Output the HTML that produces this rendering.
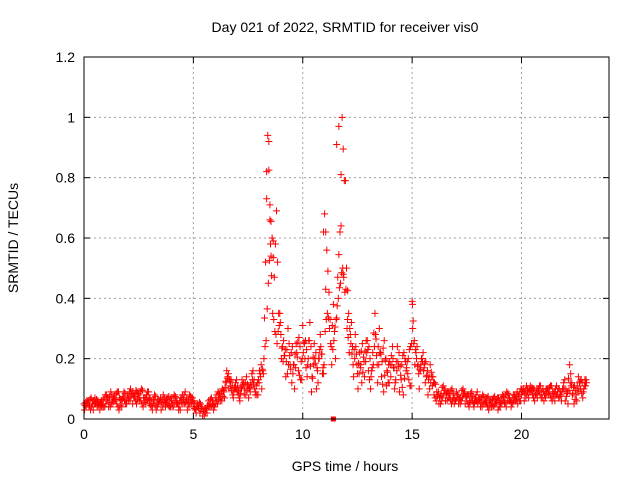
<!DOCTYPE html>
<html><head><meta charset="utf-8"><style>
body{margin:0;background:#fff;}
svg{display:block;font-family:"Liberation Sans",sans-serif;}
</style></head><body>
<svg id="chart" width="640" height="480">
<text x="345" y="32" text-anchor="middle" font-size="14">Day 021 of 2022, SRMTID for receiver vis0</text>
<text x="345" y="471" text-anchor="middle" font-size="14">GPS time / hours</text>
<text x="18" y="238" text-anchor="middle" font-size="14" transform="rotate(-90 18 238)">SRMTID / TECUs</text>
<g id="grid"></g><g id="ticks"></g><g id="marks"></g>
<rect x="84" y="57" width="525" height="362" fill="none" stroke="#000" stroke-width="1"/>
</svg>
<script>
const xTicks=[0,5,10,15,20];
const yTicks=[0,0.2,0.4,0.6,0.8,1,1.2];
const yTickLabels=["0","0.2","0.4","0.6","0.8","1","1.2"];
const hourlyValues=[
[0.05,0.04,0.06,0.03,0.05,0.07,0.04,0.05,0.06,0.04],
[0.05,0.07,0.04,0.06,0.08,0.05,0.03,0.06,0.07,0.05],
[0.08,0.06,0.09,0.07,0.05,0.08,0.06,0.04,0.07,0.09],
[0.05,0.04,0.06,0.03,0.05,0.07,0.04,0.06,0.05,0.04],
[0.06,0.04,0.07,0.05,0.03,0.08,0.05,0.06,0.04,0.07],
[0.04,0.03,0.05,0.02,0.04,0.01,0.03,0.06,0.04,0.05],
[0.07,0.05,0.08,0.06,0.09,0.12,0.15,0.11,0.08,0.10],
[0.09,0.07,0.10,0.12,0.08,0.11,0.09,0.13,0.10,0.08],
[0.12,0.18,0.15,0.52,0.94,0.71,0.60,0.47,0.69,0.35],
[0.28,0.19,0.23,0.15,0.21,0.12,0.18,0.25,0.16,0.13],
[0.31,0.20,0.14,0.26,0.09,0.18,0.22,0.12,0.28,0.15],
[0.68,0.56,0.42,0.24,0.38,0.20,0.47,0.62,1.00,0.79],
[0.50,0.35,0.25,0.18,0.28,0.15,0.22,0.12,0.19,0.26],
[0.16,0.10,0.22,0.35,0.18,0.30,0.14,0.09,0.20,0.12],
[0.18,0.24,0.10,0.16,0.22,0.13,0.08,0.19,0.15,0.11],
[0.39,0.26,0.20,0.15,0.18,0.22,0.12,0.16,0.10,0.14],
[0.08,0.06,0.09,0.05,0.07,0.10,0.06,0.08,0.05,0.07],
[0.06,0.08,0.05,0.07,0.09,0.06,0.04,0.07,0.05,0.06],
[0.05,0.07,0.04,0.06,0.05,0.03,0.06,0.04,0.05,0.07],
[0.06,0.05,0.07,0.04,0.08,0.06,0.05,0.07,0.09,0.06],
[0.08,0.10,0.07,0.09,0.11,0.08,0.06,0.10,0.09,0.07],
[0.09,0.07,0.10,0.08,0.06,0.09,0.11,0.07,0.08,0.10],
[0.06,0.09,0.18,0.12,0.05,0.08,0.14,0.10,0.07,0.13]
];
const hourlyValues2=[
[0.03,0.06,0.04,0.07,0.03,0.05,0.06,0.03,0.04,0.07],
[0.08,0.04,0.09,0.05,0.06,0.09,0.07,0.04,0.09,0.06],
[0.06,0.10,0.05,0.08,0.09,0.06,0.10,0.07,0.05,0.06],
[0.07,0.03,0.08,0.05,0.06,0.03,0.08,0.04,0.07,0.06],
[0.04,0.08,0.05,0.03,0.07,0.05,0.09,0.03,0.08,0.05],
[0.06,0.02,0.04,0.05,0.01,0.03,0.02,0.04,0.07,0.03],
[0.05,0.09,0.06,0.10,0.07,0.16,0.10,0.13,0.07,0.12],
[0.11,0.06,0.13,0.08,0.14,0.07,0.12,0.16,0.08,0.12],
[0.16,0.10,0.20,0.26,0.45,0.58,0.35,0.29,0.25,0.31],
[0.20,0.26,0.14,0.30,0.18,0.24,0.10,0.22,0.27,0.19],
[0.22,0.26,0.18,0.32,0.14,0.25,0.10,0.20,0.24,0.17],
[0.29,0.35,0.30,0.18,0.26,0.33,0.40,0.45,0.50,0.42],
[0.30,0.22,0.32,0.14,0.24,0.10,0.18,0.25,0.14,0.22],
[0.24,0.14,0.18,0.28,0.12,0.22,0.19,0.26,0.11,0.18],
[0.14,0.20,0.12,0.24,0.09,0.18,0.22,0.16,0.20,0.24],
[0.30,0.18,0.24,0.10,0.20,0.16,0.19,0.08,0.18,0.11],
[0.12,0.09,0.05,0.08,0.11,0.06,0.09,0.07,0.10,0.05],
[0.09,0.05,0.07,0.10,0.05,0.08,0.06,0.09,0.04,0.08],
[0.07,0.04,0.08,0.05,0.07,0.06,0.04,0.07,0.06,0.03],
[0.04,0.08,0.05,0.09,0.06,0.04,0.08,0.06,0.05,0.09],
[0.10,0.06,0.11,0.07,0.09,0.10,0.08,0.07,0.11,0.09],
[0.06,0.10,0.08,0.11,0.09,0.06,0.08,0.10,0.06,0.12],
[0.10,0.05,0.12,0.08,0.11,0.06,0.10,0.13,0.09,0.11]
];
const extraTimes=[8.35,8.45,8.5,8.55,8.65,10.95,11.05,11.55,11.65,11.75,11.85,12.05,15.02];
const extraValues=[0.82,0.92,0.66,0.54,0.59,0.62,0.43,0.91,0.97,0.64,0.48,0.33,0.38];
const squareTimes=[11.4];
const squareValues=[0];
const NS="http://www.w3.org/2000/svg";
const X0=84,X1=609,Y0=419,Y1=57,XMAX=24,YMAX=1.2;
function xs(t){return X0+(X1-X0)*t/XMAX;}
function ys(v){return Y0-(Y0-Y1)*v/YMAX;}
function mk(tag,attrs,parent){const e=document.createElementNS(NS,tag);for(const k in attrs)e.setAttribute(k,attrs[k]);parent.appendChild(e);return e;}
const grid=document.getElementById('grid'),ticks=document.getElementById('ticks'),marks=document.getElementById('marks');
xTicks.forEach(t=>{const x=xs(t);
 if(t>0){const g=mk('line',{x1:x,x2:x,y1:Y0,y2:Y1,stroke:'#a0a0a0','stroke-dasharray':'2,3'},grid);
 
 }
 mk('line',{x1:x,x2:x,y1:Y0,y2:Y0-6,stroke:'#000'},ticks);
 mk('line',{x1:x,x2:x,y1:Y1,y2:Y1+6,stroke:'#000'},ticks);
 const l=mk('text',{x:x,y:Y0+20,'text-anchor':'middle','font-size':'14'},ticks);l.textContent=t;
 
 
});
yTicks.forEach((v,i)=>{const y=ys(v);
 if(v>0&&v<YMAX){const g=mk('line',{x1:X0,x2:X1,y1:y,y2:y,stroke:'#a0a0a0','stroke-dasharray':'2,3'},grid);
 
 }
 mk('line',{x1:X0,x2:X0+6,y1:y,y2:y,stroke:'#000'},ticks);
 mk('line',{x1:X1,x2:X1-6,y1:y,y2:y,stroke:'#000'},ticks);
 const l=mk('text',{x:X0-9,y:y+5,'text-anchor':'end','font-size':'14'},ticks);l.textContent=yTickLabels[i];
 
 
});
function plus(t,v){const x=xs(t),y=ys(v);
 const p=mk('path',{d:`M${x-3.5},${y}H${x+3.5}M${x},${y-3.5}V${y+3.5}`,stroke:'#ff0000','stroke-width':'1',fill:'none'},marks);
 
 
}
hourlyValues.forEach((row,h)=>row.forEach((v,i)=>{const t=h+i/10;plus(t,v);plus(t+0.05,(v+(row[i+1]!==undefined?row[i+1]:v))/2);}));
hourlyValues2.forEach((row,h)=>row.forEach((v,i)=>{const t=h+i/10;plus(t+0.025,v);plus(t+0.075,(v+(row[i+1]!==undefined?row[i+1]:v))/2+0.01);}));
extraTimes.forEach((t,i)=>plus(t,extraValues[i]));
squareTimes.forEach((t,i)=>{const r=mk('rect',{x:xs(t)-2.5,y:ys(squareValues[i])-2.5,width:5,height:5,fill:'#ff0000'},marks);
 
 });
</script>
</body></html>
